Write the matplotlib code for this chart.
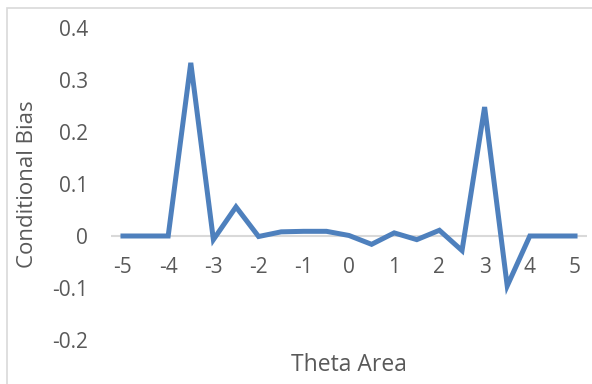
import matplotlib.pyplot as plt
from matplotlib.patches import Rectangle

# datos
theta = [-5, -4.5, -4, -3.5, -3, -2.5, -2, -1.5, -1, -0.5, 0,
         0.5, 1, 1.5, 2, 2.5, 3, 3.5, 4, 4.5, 5]
bias = [0, 0, 0, 0.333, -0.007, 0.056, -0.001, 0.008, 0.009, 0.009, 0.001,
        -0.016, 0.006, -0.007, 0.011, -0.028, 0.248, -0.096, 0, 0, 0]
x_ticks = [-5, -4, -3, -2, -1, 0, 1, 2, 3, 4, 5]
y_ticks = [-0.2, -0.1, 0, 0.1, 0.2, 0.3, 0.4]

plt.rcParams['font.family'] = ['Open Sans', 'DejaVu Sans']
gris = '#595959'

fig = plt.figure(figsize=(5.92, 3.84), dpi=100)
W, H = 592, 384
ax = fig.add_axes([111 / W, 1 - 340 / H, (587 - 111) / W, (340 - 28) / H])

# borde del area del grafico
fig.patches.append(Rectangle((7 / W, -0.1), 1.2, 1 - 8 / H + 0.1, transform=fig.transFigure,
                             fill=False, edgecolor='#d9d9d9', linewidth=1.2))

ax.axhline(0, color='#d9d9d9', linewidth=1.5, zorder=1)
ax.plot(theta, bias, color='#4E80BD', linewidth=3.6, solid_joinstyle='miter', zorder=3)

ax.set_xlim(-5.265, 5.265)
ax.set_ylim(-0.2, 0.4)
ax.set_yticks(y_ticks)
ax.set_yticklabels(['-0.2', '-0.1', '0', '0.1', '0.2', '0.3', '0.4'])
ax.set_xticks([])
for s in ax.spines.values():
    s.set_visible(False)
ax.tick_params(axis='y', length=0, pad=16.5, labelsize=15, labelcolor=gris)

# etiquetas del eje x junto a la linea del cero
for t in x_ticks:
    ax.text(t, -0.06, str(t), ha='center', va='center', fontsize=15, color=gris)

fig.text(349 / W, 1 - 365 / H, 'Theta Area', ha='center', va='center', fontsize=16.5, color=gris)
fig.text(28 / W, 1 - 184 / H, 'Conditional Bias', ha='center', va='center', rotation=90,
         fontsize=16, color=gris)

fig.savefig('out.png', dpi=100)
